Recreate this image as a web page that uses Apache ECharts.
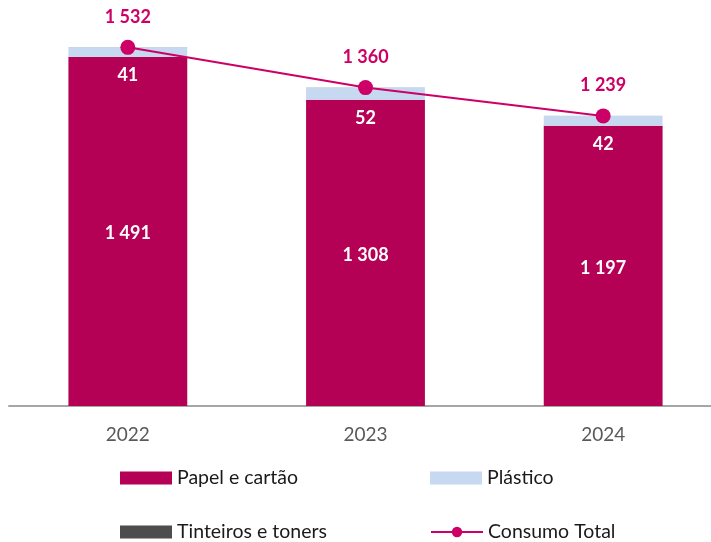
<!DOCTYPE html>
<html><head><meta charset="utf-8">
<script src="https://cdn.jsdelivr.net/npm/echarts@6/dist/echarts.min.js"></script>
<style>html,body{margin:0;padding:0;background:#fff}#c{width:711px;height:542px}</style>
</head><body><div id="c"></div>
<script>
var categories = ['2022', '2023', '2024'];
var papel = [1491, 1308, 1197];
var plastico = [41, 52, 42];
var tinteiros = [1, 1, 1];
var total = [1532, 1360, 1239];

var FONT = 'Lato';
var chart = echarts.init(document.getElementById('c'));
function leg(name, left, top, icon, color) {
  var item = {name: name};
  if (icon) item.icon = icon;
  if (color) item.itemStyle = {color: color, opacity: 1};
  return {
    data: [item],
    left: left, top: top, orient: 'horizontal',
    itemWidth: 52, itemHeight: 13, itemGap: 0,
    textStyle: {fontFamily: FONT, fontSize: 19.5, color: '#1a1a1a'},
    selectedMode: false
  };
}
function fmt(v) { var s = String(v); return s.length > 3 ? s.slice(0, s.length - 3) + ' ' + s.slice(-3) : s; }
chart.setOption({
  animation: false,
  textStyle: {fontFamily: FONT},
  grid: {left: 9, width: 713, top: 8, bottom: 136, outerBoundsMode: 'none'},
  legend: [
    leg('Papel e cartão', 115, 463, 'rect'),
    leg('Plástico', 425, 463, 'rect'),
    leg('Tinteiros e toners', 115, 517, 'rect', '#4d4d4d'),
    leg('Consumo Total', 425, 517)
  ],
  xAxis: {
    type: 'category', data: categories,
    axisLine: {show: true, lineStyle: {color: '#a6a6a6', width: 2}},
    axisTick: {show: false},
    axisLabel: {color: '#595959', fontSize: 19, margin: 19, fontFamily: FONT}
  },
  yAxis: {type: 'value', min: 0, max: 1700, show: false, splitLine: {show: false}},
  series: [
    {
      name: 'Papel e cartão', type: 'bar', stack: 's', data: papel, barWidth: '50%',
      itemStyle: {color: '#b40055'},
      label: {show: true, position: 'inside', offset: [0, 2], color: '#fff', fontWeight: 'bold', fontSize: 18,
        fontFamily: FONT, formatter: function (p) { return fmt(p.value); }}
    },
    {
      name: 'Plástico', type: 'bar', stack: 's', data: plastico,
      itemStyle: {color: '#c6d9f0'},
      label: {show: true, position: 'bottom', distance: 9, color: '#fff', fontWeight: 'bold', fontSize: 18, fontFamily: FONT}
    },
    {
      name: 'Tinteiros e toners', type: 'bar', stack: 's', data: tinteiros,
      itemStyle: {color: '#4d4d4d', opacity: 0.35}
    },
    {
      name: 'Consumo Total', type: 'line', data: total,
      symbol: 'circle', symbolSize: 15, z: 5,
      lineStyle: {color: '#cc0066', width: 2},
      itemStyle: {color: '#cc0066'},
      label: {show: true, position: 'top', distance: 14, color: '#cc0066', fontWeight: 'bold', fontSize: 18,
        fontFamily: FONT, formatter: function (p) { return fmt(p.value); }}
    }
  ]
});
</script></body></html>
